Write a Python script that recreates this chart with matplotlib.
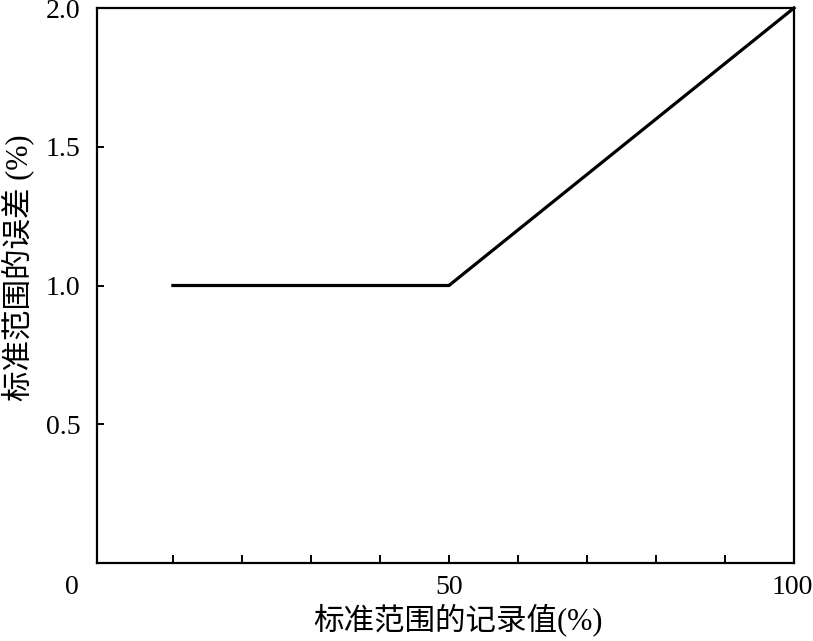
import matplotlib.pyplot as plt
import matplotlib.transforms as mtransforms

plt.rcParams['font.family'] = ['Liberation Serif', 'Noto Sans CJK SC']

# data
record_pct = [10, 50, 100]
error_pct = [1.0, 1.0, 2.0]
x_ticks = [0, 10, 20, 30, 40, 50, 60, 70, 80, 90, 100]
x_labels = ["0", "", "", "", "", "50", "", "", "", "", "100"]
y_ticks = [0.5, 1.0, 1.5, 2.0]
y_labels = ["0.5", "1.0", "1.5", "2.0"]


def main():
    fig = plt.figure(figsize=(8.13, 6.41), dpi=100)
    ax = fig.add_axes([0.1193, 0.1217, 0.8573, 0.8658])

    ax.plot(record_pct, error_pct, color="black", lw=2.3, clip_on=False,
            solid_joinstyle="miter")

    ax.set_xlim(-1, 100)
    ax.set_ylim(0, 2.0)

    ax.set_xticks(x_ticks)
    ax.set_xticklabels(x_labels)
    ax.set_yticks(y_ticks)
    ax.set_yticklabels(y_labels)
    ax.tick_params(axis="x", direction="in", length=6, width=1.4, pad=9, labelsize=20)
    ax.tick_params(axis="y", direction="in", length=5, width=1.4, pad=12, labelsize=20)

    # no tick mark at 0; the origin label sits left of the corner
    ax.xaxis.get_major_ticks()[0].tick1line.set_visible(False)
    lbl0 = ax.get_xticklabels()[0]
    lbl0.set_transform(lbl0.get_transform() +
                       mtransforms.ScaledTranslation(-0.32, 0, fig.dpi_scale_trans))
    lbl100 = ax.get_xticklabels()[-1]
    lbl100.set_transform(lbl100.get_transform() +
                         mtransforms.ScaledTranslation(-0.02, 0, fig.dpi_scale_trans))

    for s in ax.spines.values():
        s.set_linewidth(1.6)

    ax.set_xlabel("标准范围的记录值(%)", fontsize=22, labelpad=2, x=0.518)
    ax.set_ylabel("标准范围的误差 (%)", fontsize=22, labelpad=8, y=0.532)

    fig.savefig("out.png", dpi=100)
    plt.close(fig)


if __name__ == "__main__":
    main()
